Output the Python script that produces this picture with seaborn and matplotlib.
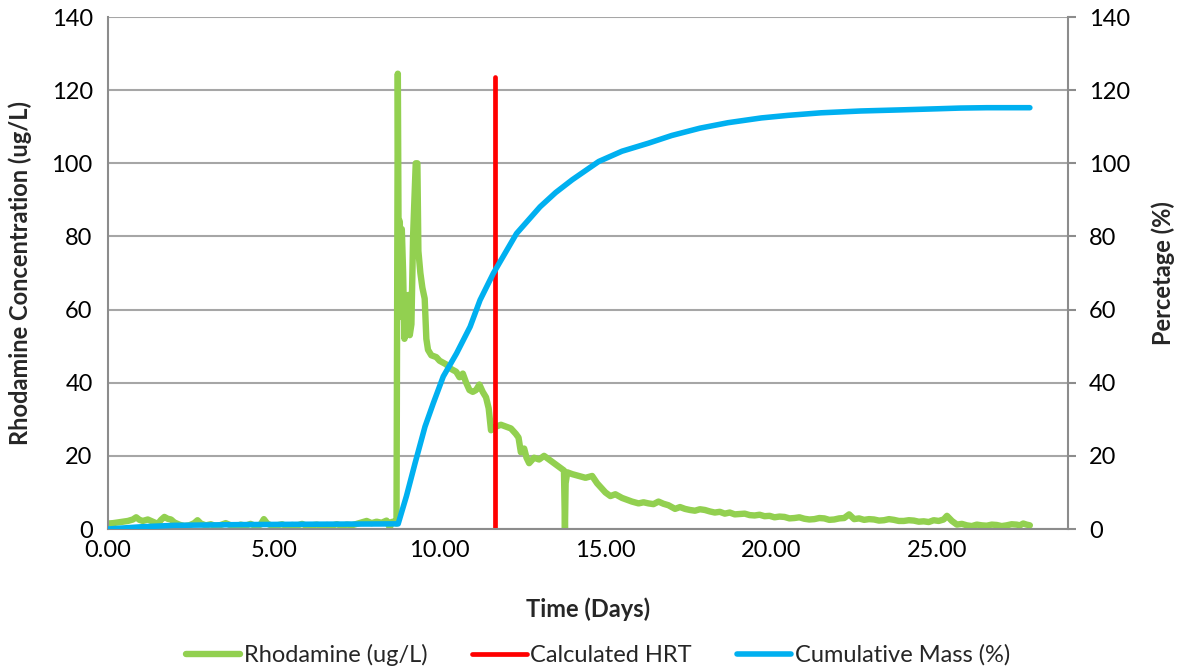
import matplotlib
matplotlib.use("Agg")
import matplotlib.pyplot as plt
import seaborn as sns
import pandas as pd

# ---------------- data ----------------
rhod_t = [0.0, 0.15, 0.3, 0.45, 0.6, 0.75, 0.85, 0.95, 1.05, 1.2, 1.35, 1.5, 1.6, 1.7, 1.8, 1.9,
          2.0, 2.15, 2.3, 2.45, 2.6, 2.7, 2.8, 2.95, 3.1, 3.25, 3.4, 3.55, 3.7, 3.85, 4.0, 4.15,
          4.3, 4.45, 4.6, 4.7, 4.8, 4.95, 5.1, 5.25, 5.4, 5.55, 5.7, 5.85, 6.0, 6.15, 6.3, 6.45,
          6.6, 6.75, 6.9, 7.05, 7.2, 7.35, 7.5, 7.65, 7.8, 7.95, 8.1, 8.25, 8.4, 8.5, 8.55, 8.65,
          8.70, 8.72, 8.74, 8.76, 8.80, 8.83, 8.86, 8.90, 8.94, 8.98, 9.02, 9.06, 9.10, 9.15,
          9.20, 9.28, 9.33, 9.36, 9.42, 9.48, 9.55, 9.60, 9.65, 9.75, 9.9, 10.0, 10.1, 10.2,
          10.3, 10.4, 10.5, 10.6, 10.7, 10.8, 10.9, 11.0, 11.1, 11.2, 11.3, 11.4, 11.48, 11.55,
          11.7, 11.85, 12.0, 12.15, 12.3, 12.38, 12.45, 12.55, 12.62, 12.7, 12.85, 13.0, 13.15,
          13.3, 13.45, 13.6, 13.75, 13.78, 13.80, 13.85, 14.0, 14.2, 14.4, 14.6, 14.75, 14.85,
          15.0, 15.15, 15.3, 15.5, 15.65, 15.8, 16.0, 16.15, 16.3, 16.45, 16.6, 16.75, 16.9,
          17.1, 17.25, 17.4, 17.55, 17.7, 17.85, 18.0, 18.15, 18.3, 18.45, 18.6, 18.75, 18.9,
          19.05, 19.2, 19.35, 19.5, 19.65, 19.8, 19.95, 20.1, 20.25, 20.4, 20.55, 20.7, 20.85,
          21.0, 21.15, 21.3, 21.45, 21.6, 21.75, 21.9, 22.05, 22.2, 22.35, 22.5, 22.65, 22.8,
          22.95, 23.1, 23.25, 23.4, 23.55, 23.7, 23.85, 24.0, 24.15, 24.3, 24.45, 24.6, 24.75,
          24.9, 25.05, 25.2, 25.3, 25.45, 25.6, 25.75, 25.9, 26.05, 26.2, 26.35, 26.5, 26.65,
          26.8, 26.95, 27.1, 27.25, 27.4, 27.5, 27.6, 27.7, 27.8]
rhod_v = [1.5, 1.6, 1.8, 2.0, 2.2, 2.6, 3.2, 2.5, 2.2, 2.6, 2.0, 1.4, 2.5, 3.3, 2.8, 2.6,
          1.8, 1.2, 0.8, 1.0, 1.6, 2.4, 1.5, 1.0, 1.3, 0.8, 1.1, 1.6, 1.0, 0.7, 1.2, 0.9,
          1.4, 0.8, 1.2, 2.7, 1.5, 0.8, 1.0, 1.3, 0.7, 1.1, 0.9, 1.4, 0.8, 1.0, 1.2, 0.7,
          1.1, 0.9, 1.3, 0.8, 1.2, 1.0, 1.4, 1.8, 2.2, 1.6, 2.0, 1.7, 2.3, 0.3, 1.9, 2.1,
          1.5, 60.0, 124.5, 85.0, 84.0, 58.0, 82.0, 70.0, 52.0, 60.0, 55.0, 64.0, 53.0, 56.0,
          80.0, 100.0, 100.0, 76.0, 70.0, 66.0, 63.0, 52.0, 49.0, 47.5, 47.0, 46.0, 45.5, 45.0,
          44.0, 43.5, 43.0, 41.5, 42.5, 40.0, 38.0, 37.5, 38.0, 39.5, 37.5, 36.0, 33.0, 27.0,
          28.0, 28.5, 28.0, 27.5, 26.0, 25.0, 21.0, 22.0, 19.5, 18.0, 19.5, 19.0, 20.0,
          19.0, 18.0, 17.0, 16.0, 0.0, 12.5, 15.5, 15.0, 14.5, 14.0, 14.5, 12.5, 11.5,
          10.0, 9.0, 9.5, 8.5, 8.0, 7.5, 7.0, 7.3, 7.0, 6.8, 7.5, 6.9, 6.5,
          5.5, 6.0, 5.5, 5.2, 5.0, 5.4, 5.2, 4.8, 4.5, 4.7, 4.2, 4.5, 4.0,
          4.1, 4.2, 3.8, 3.7, 3.9, 3.5, 3.6, 3.2, 3.4, 3.3, 2.9, 3.0, 3.2,
          2.8, 2.6, 2.7, 3.0, 2.9, 2.5, 2.6, 2.9, 3.0, 4.0, 2.7, 2.9, 2.5,
          2.7, 2.6, 2.3, 2.4, 2.7, 2.5, 2.2, 2.2, 2.4, 2.3, 2.0, 2.1, 1.9,
          2.4, 2.2, 2.6, 3.6, 2.2, 1.2, 1.4, 1.0, 0.8, 1.2, 1.0, 0.9, 1.2,
          1.1, 0.8, 1.0, 1.3, 1.2, 1.0, 1.5, 1.2, 1.0]

hrt_t = [11.67, 11.67]
hrt_v = [0.0, 123.5]

mass_t = [0.0, 1.0, 2.0, 4.0, 6.0, 8.75, 9.0, 9.26, 9.56, 9.81, 10.11, 10.51, 10.92, 11.22,
          11.62, 12.32, 13.03, 13.5, 14.0, 14.4, 14.8, 15.5, 16.3, 17.0, 17.85, 18.7, 19.7,
          20.5, 21.5, 22.7, 23.9, 25.0, 25.7, 26.5, 27.8]
mass_v = [0.0, 0.6, 1.0, 1.2, 1.3, 1.4, 9.0, 18.0, 28.0, 34.4, 41.7, 48.0, 55.3, 62.6,
          69.9, 80.8, 88.1, 92.0, 95.5, 98.0, 100.5, 103.3, 105.5, 107.6, 109.6, 111.1, 112.4,
          113.1, 113.8, 114.3, 114.6, 114.9, 115.1, 115.2, 115.2]

x_ticks = [0, 5, 10, 15, 20, 25]
x_tick_labels = ["0.00", "5.00", "10.00", "15.00", "20.00", "25.00"]
y_ticks = [0, 20, 40, 60, 80, 100, 120, 140]

GREEN = "#92D050"
RED = "#FF0000"
BLUE = "#00B0F0"
GRID = "#A6A6A6"
SPINE = "#8C8C8C"

sns.set_style("white")
plt.rcParams["font.family"] = ["Lato", "DejaVu Sans"]

FS = 17

fig = plt.figure(figsize=(11.77, 6.68), dpi=100)
ax = fig.add_axes([108 / 1177, 1 - 529 / 668, 960 / 1177, 512 / 668])
ax2 = ax.twinx()

df_r = pd.DataFrame({"t": rhod_t, "v": rhod_v})
df_h = pd.DataFrame({"t": hrt_t, "v": hrt_v})
df_m = pd.DataFrame({"t": mass_t, "v": mass_v})

sns.lineplot(data=df_r, x="t", y="v", ax=ax, color=GREEN, lw=4.6, estimator=None, sort=False,
             label="Rhodamine (ug/L)", legend=False, solid_capstyle="round", solid_joinstyle="round")
sns.lineplot(data=df_h, x="t", y="v", ax=ax, color=RED, lw=3.4, estimator=None, sort=False,
             label="Calculated HRT", legend=False, solid_capstyle="round")
sns.lineplot(data=df_m, x="t", y="v", ax=ax2, color=BLUE, lw=4.0, estimator=None, sort=False,
             label="Cumulative Mass (%)", legend=False, solid_capstyle="round", solid_joinstyle="round")

for a in (ax, ax2):
    a.set_xlim(0, 28.95)
    a.set_ylim(0, 140)
    a.set_yticks(y_ticks)

ax.set_xticks(x_ticks)
ax.set_xticklabels(x_tick_labels)
ax.yaxis.grid(True, color=GRID, lw=1.5)
ax.xaxis.grid(False)
ax.set_axisbelow(True)

for a in (ax, ax2):
    for s in a.spines.values():
        s.set_visible(False)
for name, a in (("left", ax), ("bottom", ax), ("right", ax2)):
    a.spines[name].set_visible(True)
    a.spines[name].set_color(SPINE)
    a.spines[name].set_linewidth(1.5)

ax.tick_params(axis="x", length=0, labelsize=FS, colors="black", pad=8)
ax.tick_params(axis="y", length=0, labelsize=FS, colors="black", pad=11)
ax2.tick_params(axis="y", length=6, width=1.5, color=SPINE, labelsize=FS, labelcolor="black", pad=9,
                direction="out")

ax.set_xlabel("Time (Days)", fontsize=FS, fontweight="bold", labelpad=26)
ax.set_ylabel("Rhodamine Concentration (ug/L)", fontsize=FS, fontweight="bold", labelpad=14)
ax2.set_ylabel("Percetage (%)", fontsize=FS, fontweight="bold", labelpad=15)

h1, l1 = ax.get_legend_handles_labels()
h2, l2 = ax2.get_legend_handles_labels()
fig.legend(h1 + h2, l1 + l2, loc="center", bbox_to_anchor=(0.508, 1 - 655 / 668), ncol=3,
           frameon=False, fontsize=FS, handlelength=2.3, handletextpad=0.15, columnspacing=1.9)

fig.savefig("out.png", dpi=100)
